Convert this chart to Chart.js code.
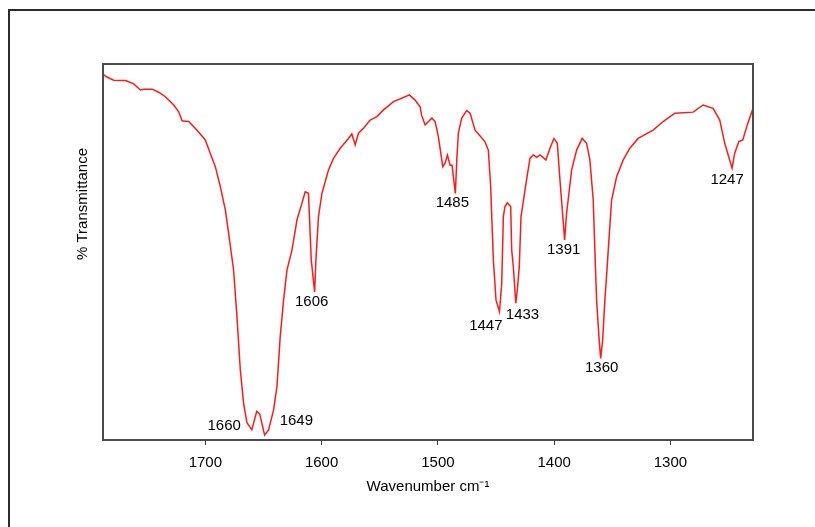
<!DOCTYPE html>
<html>
<head>
<meta charset="utf-8">
<script src="https://cdn.jsdelivr.net/npm/chart.js@4/dist/chart.umd.min.js"></script>
<style>
  html, body { margin: 0; padding: 0; background: #fff; }
  #wrap { position: relative; width: 815px; height: 527px; overflow: hidden; }
  #frame { position: absolute; left: 8px; top: 9px; width: 900px; height: 600px;
           border-top: 2px solid #2a2a2a; border-left: 2px solid #2a2a2a; pointer-events: none; }
  canvas { position: absolute; left: 0; top: 0; }
</style>
</head>
<body>
<div id="wrap">
  <canvas id="spectrum" width="815" height="527"></canvas>
  <div id="frame"></div>
</div>
<script>
// IR spectrum, wavenumber (cm-1) against % transmittance
const wavenumbers = [
  1788, 1785.1, 1778.8, 1768.7, 1761.6, 1755.8, 1753, 1745.8, 1740.1, 1734.4,
  1727.2, 1722.9, 1720, 1717.2, 1714.3, 1707.1, 1700, 1695.7, 1691.4, 1687.1,
  1682.8, 1680, 1677.1, 1675.7, 1672.8, 1669.9, 1667.1, 1664.2, 1660, 1655.8,
  1653.2, 1649, 1645.6, 1641.3, 1638.4, 1635.6, 1632.7, 1629.8, 1625.5, 1621.2,
  1616.9, 1614.1, 1611.3, 1608.9, 1606, 1604.9, 1602.7, 1599.7, 1594.1, 1589.8,
  1584, 1576.9, 1574, 1571.1, 1568.3, 1564, 1558.2, 1552.5, 1546.8, 1538.2,
  1529.6, 1524.5, 1519.6, 1515.3, 1514, 1511, 1505.2, 1502.4, 1499.6, 1495.8,
  1493.8, 1491.8, 1489.5, 1487.8, 1485, 1483.6, 1482.4, 1479.5, 1475.2, 1472.3,
  1468, 1463.8, 1459.5, 1456.6, 1454.6, 1452.3, 1451.7, 1450, 1447, 1445.1,
  1443.7, 1442.3, 1440.3, 1437.4, 1436.5, 1435.1, 1433, 1431.7, 1430, 1428.5,
  1424.2, 1420.8, 1418, 1415, 1412.2, 1407.1, 1403.6, 1400.2, 1397.3, 1395,
  1391, 1389.3, 1385, 1380.7, 1375.9, 1372.1, 1369.3, 1366.4, 1365, 1363.5,
  1361.5, 1360, 1358.3, 1356.4, 1354.4, 1353.5, 1350.6, 1346.3, 1340.6, 1334.9,
  1327.8, 1314.9, 1306.3, 1296.2, 1280.5, 1271.9, 1263.3, 1257.6, 1253.3, 1247,
  1244.8, 1241.2, 1237.8, 1233.5, 1229.2
];
const transmittance = [
  97.3, 96.6, 95.7, 95.6, 94.7, 93.1, 93.3, 93.3, 92.5, 91.3,
  89.1, 87.3, 84.9, 84.8, 84.7, 82.4, 79.8, 76.2, 72.7, 67.4,
  61.2, 55.1, 48.4, 45.2, 32.8, 18.6, 9.8, 4.6, 2.7, 7.6,
  6.9, 1.3, 2.7, 8.0, 14.2, 27.5, 37.2, 45.2, 50.5, 58.5,
  63.0, 66.0, 65.6, 47.9, 39.4, 47.9, 59.4, 65.6, 71.8, 74.9,
  77.6, 80.2, 81.4, 78.5, 81.6, 82.9, 85.1, 86.0, 87.8, 90.0,
  91.1, 91.8, 90.4, 88.6, 86.4, 83.8, 85.6, 84.7, 80.7, 72.7,
  73.6, 75.8, 73.1, 73.1, 65.6, 75.3, 81.6, 85.6, 87.6, 86.9,
  82.4, 80.9, 79.3, 77.1, 67.4, 47.9, 45.2, 37.2, 34.1, 41.7,
  59.4, 62.1, 63.1, 62.1, 50.5, 46.0, 36.4, 39.9, 46.1, 59.4,
  68.3, 74.9, 75.8, 75.2, 75.8, 74.5, 77.6, 80.2, 78.9, 69.1,
  53.2, 60.3, 71.8, 77.1, 80.2, 78.9, 74.5, 63.8, 50.5, 37.2,
  27.5, 21.7, 26.6, 37.2, 46.1, 50.5, 63.8, 70.0, 74.5, 77.6,
  80.2, 82.4, 84.7, 86.9, 87.2, 89.1, 88.2, 85.1, 78.9, 72.3,
  76.2, 79.4, 79.8, 84.2, 88.0
];
const xTicks = [1700, 1600, 1500, 1400, 1300];
const peakWavenumbers = [1660, 1649, 1606, 1485, 1447, 1433, 1391, 1360, 1247];

// Where each peak label sits relative to the bottom of its band
const peakLabelPlacement = {
  1660: { align: 'right',  dx: -11, dy: -4 },
  1649: { align: 'left',   dx: 15,  dy: -14 },
  1606: { align: 'center', dx: -3,  dy: 10 },
  1485: { align: 'center', dx: -3,  dy: 10 },
  1447: { align: 'right',  dx: 3,   dy: 14 },
  1433: { align: 'left',   dx: -10, dy: 12 },
  1391: { align: 'center', dx: -1,  dy: 10 },
  1360: { align: 'center', dx: 1,   dy: 9 },
  1247: { align: 'center', dx: -5,  dy: 12 }
};

const FONT = 'Liberation Sans, Arial, sans-serif';
const points = wavenumbers.map((w, i) => ({ x: w, y: transmittance[i] }));

const spectrumDecor = {
  id: 'spectrumDecor',
  afterDatasetsDraw(chart) {
    const { ctx, chartArea: a, scales: { x, y } } = chart;
    ctx.save();
    // plot frame
    ctx.strokeStyle = '#4a4a4a';
    ctx.lineWidth = 2;
    ctx.strokeRect(a.left, a.top, a.right - a.left, a.bottom - a.top);
    // peak labels
    ctx.fillStyle = '#000';
    ctx.font = '15px ' + FONT;
    ctx.textBaseline = 'middle';
    peakWavenumbers.forEach(w => {
      const i = wavenumbers.indexOf(w);
      const p = peakLabelPlacement[w];
      ctx.textAlign = p.align;
      ctx.fillText(String(w), x.getPixelForValue(w) + p.dx, y.getPixelForValue(transmittance[i]) + p.dy);
    });
    // vertical axis title
    ctx.translate(83, 204);
    ctx.rotate(-Math.PI / 2);
    ctx.textAlign = 'center';
    ctx.fillText('% Transmittance', 0, 0);
    ctx.restore();
  }
};

new Chart(document.getElementById('spectrum'), {
  type: 'line',
  data: {
    datasets: [{
      data: points,
      borderColor: '#ff1a1a',
      borderWidth: 1.5,
      pointRadius: 0,
      tension: 0,
      fill: false
    }]
  },
  options: {
    responsive: false,
    devicePixelRatio: 1,
    animation: false,
    layout: { padding: { left: 0, top: 64, right: 62, bottom: 0 } },
    plugins: { legend: { display: false }, tooltip: { enabled: false } },
    scales: {
      x: {
        type: 'linear',
        reverse: true,
        min: 1229,
        max: 1788,
        afterBuildTicks: s => { s.ticks = xTicks.map(v => ({ value: v })); },
        afterFit: s => { s.height = 87; },
        grid: { display: true, drawOnChartArea: false, drawTicks: true, tickLength: 5, color: '#333', lineWidth: 1 },
        border: { display: false },
        ticks: { color: '#000', padding: 9, maxRotation: 0, font: { family: FONT, size: 15 },
                 callback: v => String(v) },
        title: { display: true, text: 'Wavenumber cm\u207B\u00B9', color: '#000',
                 font: { family: FONT, size: 15 }, padding: { top: 0, bottom: 31 } }
      },
      y: {
        min: 0,
        max: 100,
        afterFit: s => { s.width = 103; },
        grid: { display: false },
        border: { display: false },
        ticks: { display: false }
      }
    }
  },
  plugins: [spectrumDecor]
});
</script>
</body>
</html>
